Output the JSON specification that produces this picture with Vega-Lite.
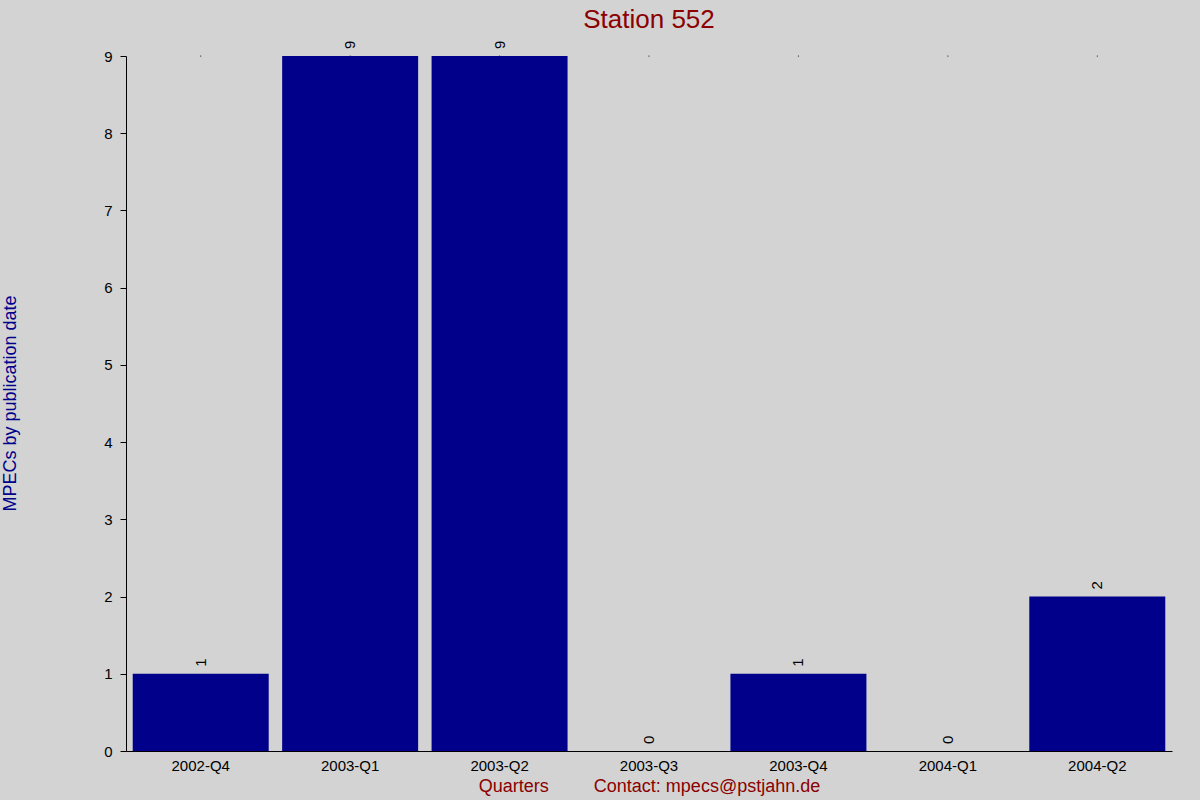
{
  "$schema": "https://vega.github.io/schema/vega-lite/v6.json",
  "autosize": {"type": "none"},
  "width": 1046,
  "height": 695,
  "padding": {"left": 126, "top": 56, "right": 28, "bottom": 49},
  "background": "#d3d3d3",
  "config": {
    "font": "Liberation Sans",
    "view": {"stroke": null},
    "axis": {"grid": false, "domainColor": "black", "tickColor": "black", "labelColor": "black", "labelFontSize": 15, "labelFont": "Liberation Sans", "titleFont": "Liberation Sans", "titleFontWeight": "normal"}
  },
  "title": {"text": "Station 552", "color": "#8b0000", "fontSize": 26, "fontWeight": "normal", "anchor": "middle", "offset": 8},
  "data": {
    "values": [
      {"quarter": "2002-Q4", "count": 1},
      {"quarter": "2003-Q1", "count": 9},
      {"quarter": "2003-Q2", "count": 9},
      {"quarter": "2003-Q3", "count": 0},
      {"quarter": "2003-Q4", "count": 1},
      {"quarter": "2004-Q1", "count": 0},
      {"quarter": "2004-Q2", "count": 2}
    ]
  },
  "encoding": {
    "x": {
      "field": "quarter", "type": "nominal", "sort": null,
      "scale": {"paddingInner": 0.09, "paddingOuter": 0.045},
      "axis": {
        "labelAngle": 0, "ticks": false, "labelPadding": 7,
        "title": "Quarters\u00a0\u00a0\u00a0\u00a0\u00a0\u00a0\u00a0\u00a0\u00a0Contact: mpecs@pstjahn.de",
        "titleColor": "#8b0000", "titleFontSize": 18,
        "titleX": 523, "titleY": 35, "titleBaseline": "middle", "titleAlign": "center"
      }
    },
    "y": {
      "field": "count", "type": "quantitative",
      "scale": {"domain": [0, 9], "nice": false},
      "axis": {
        "values": [0, 1, 2, 3, 4, 5, 6, 7, 8, 9], "tickSize": 6, "labelPadding": 8,
        "title": "MPECs by publication date", "titleColor": "#00008b", "titleFontSize": 18,
        "titleAngle": 270, "titleX": -116, "titleY": 347, "titleBaseline": "middle", "titleAlign": "center"
      }
    }
  },
  "layer": [
    {"mark": {"type": "point", "filled": true, "color": "black", "size": 1.5, "opacity": 1}, "encoding": {"y": {"datum": 9}}},
    {"mark": {"type": "bar", "color": "#00008b"}},
    {
      "mark": {"type": "text", "angle": 270, "align": "left", "baseline": "middle", "dx": 7, "fontSize": 15, "color": "black"},
      "encoding": {"text": {"field": "count", "type": "quantitative"}}
    }
  ]
}
